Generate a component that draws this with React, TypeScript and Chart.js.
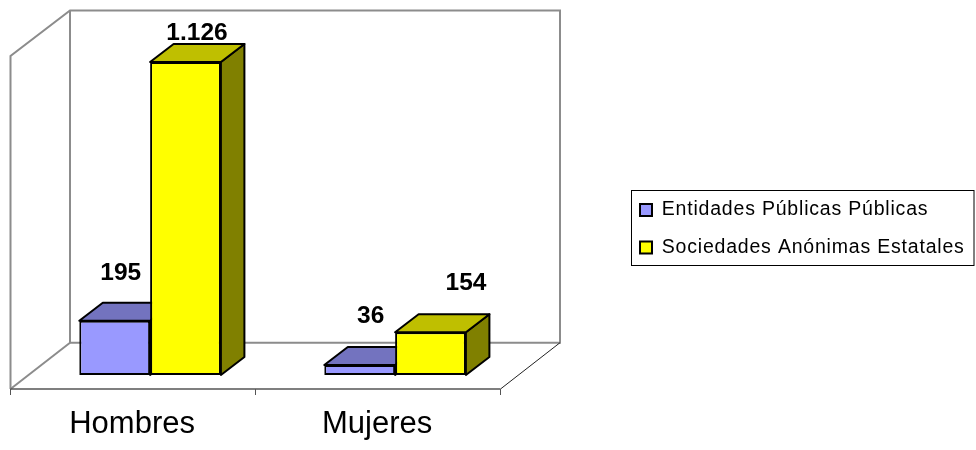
import React, { useEffect, useRef } from "react";
import { Chart, registerables } from "chart.js";

Chart.register(...registerables);

const categories = ["Hombres", "Mujeres"];
const publicas = [195, 36];
const anonimas = [1126, 154];
const seriesNames = ["Entidades Públicas Públicas", "Sociedades Anónimas Estatales"];

const FONT = '"Liberation Sans", Arial, sans-serif';
const frontColors = ["#9999FF", "#FFFF00"];
const topColors = ["#7373BF", "#BFBF00"];
const sideColors = ["#666699", "#808000"];

const fmt = (v: number) => String(v).replace(/\B(?=(\d{3})+$)/g, ".");

const scene = {
  id: "scene",
  beforeDatasetsDraw(chart: any) {
    const { ctx, chartArea: a } = chart;
    const fdx = -17.1, fdy = 14;
    const bdx = 42.4, bdy = -32.3;
    const L = a.left, R = a.right, T = a.top, B = a.bottom;
    const line = (pts: number[][], color: string, w: number) => {
      ctx.beginPath();
      pts.forEach((p, i) => (i ? ctx.lineTo(p[0], p[1]) : ctx.moveTo(p[0], p[1])));
      ctx.strokeStyle = color;
      ctx.lineWidth = w;
      ctx.stroke();
    };
    ctx.save();
    const gray = "#8C8C8C";
    // left wall and back wall
    line([[L + fdx, B + fdy], [L + fdx, T + fdy + 0.6], [L + bdx, T + bdy + 1.4], [R + bdx, T + bdy + 1.4], [R + bdx, B + bdy], [L + bdx, B + bdy], [L + bdx, T + bdy + 1.4]], gray, 2);
    // floor
    line([[L + fdx, B + fdy], [L + bdx, B + bdy]], gray, 2);
    line([[R + fdx, B + fdy], [R + bdx, B + bdy]], "#222222", 1);
    line([[L + fdx, B + fdy], [R + fdx, B + fdy]], "#555555", 1.5);
    // category ticks along the front edge
    const n = categories.length;
    const step = (R - L) / n;
    for (let i = 0; i <= n; i++) {
      const x = Math.floor(L + fdx + step * i) + 0.5;
      line([[x, B + fdy], [x, B + fdy + 6]], "#555555", 1);
    }
    // 3D faces of the bars
    const dx = 23.5, dy = -18;
    chart.data.datasets.forEach((_: any, di: number) => {
      chart.getDatasetMeta(di).data.forEach((el: any) => {
        const x0 = el.x - el.width / 2, x1 = el.x + el.width / 2, y = el.y, b = el.base;
        const face = (pts: number[][], fill: string) => {
          ctx.beginPath();
          pts.forEach((p, i) => (i ? ctx.lineTo(p[0], p[1]) : ctx.moveTo(p[0], p[1])));
          ctx.closePath();
          ctx.fillStyle = fill;
          ctx.fill();
          ctx.strokeStyle = "#000";
          ctx.lineWidth = 2;
          ctx.lineJoin = "round";
          ctx.stroke();
        };
        face([[x1, y], [x1 + dx, y + dy], [x1 + dx, b + dy], [x1, b]], sideColors[di]);
        face([[x0, y], [x0 + dx, y + dy], [x1 + dx, y + dy], [x1, y]], topColors[di]);
      });
    });
    ctx.restore();
  },
  afterDatasetsDraw(chart: any) {
    const { ctx } = chart;
    const shift: Record<string, number[]> = {
      "0-0": [6, -41],
      "0-1": [11, -42],
      "1-0": [11.5, -22],
      "1-1": [35.5, -42],
    };
    ctx.save();
    ctx.fillStyle = "#000";
    ctx.font = `bold 24.5px ${FONT}`;
    ctx.textAlign = "center";
    ctx.textBaseline = "alphabetic";
    chart.data.datasets.forEach((ds: any, di: number) => {
      chart.getDatasetMeta(di).data.forEach((el: any, i: number) => {
        const s = shift[`${di}-${i}`];
        ctx.fillText(fmt(ds.data[i]), el.x + s[0], el.y + s[1]);
      });
    });
    ctx.restore();
  },
  afterLayout(chart: any) {
    const lg = chart.legend;
    lg.left = 622;
    lg.right = 976;
    lg.top = 182.25;
    lg.bottom = 450;
    if (!lg.__spaced) {
      lg.__spaced = true;
      const orig = lg.draw;
      lg.draw = function (...args: any[]) {
        chart.ctx.letterSpacing = "0.8px";
        orig.apply(this, args);
        chart.ctx.letterSpacing = "0px";
      };
    }
  },
  afterDraw(chart: any) {
    const { ctx } = chart;
    ctx.save();
    ctx.strokeStyle = "#000";
    ctx.lineWidth = 1;
    ctx.strokeRect(631.5, 190.5, 342.5, 75);
    ctx.restore();
  },
};

export default function App() {
  const ref = useRef<HTMLCanvasElement>(null);
  useEffect(() => {
    document.body.style.margin = "0";
    const chart = new Chart(ref.current!, {
      type: "bar",
      data: {
        labels: categories,
        datasets: [
          { label: seriesNames[0], data: publicas, backgroundColor: frontColors[0], borderColor: "#000", borderWidth: 2, borderSkipped: false },
          { label: seriesNames[1], data: anonimas, backgroundColor: frontColors[1], borderColor: "#000", borderWidth: 2, borderSkipped: false },
        ],
      },
      options: {
        animation: false,
        responsive: false,
        layout: { padding: { left: 27.6, top: 41.4, right: 158.4, bottom: 0 } },
        datasets: { bar: { categoryPercentage: 0.578, barPercentage: 1 } },
        scales: {
          x: {
            grid: { display: false },
            border: { display: false },
            afterFit: (s: any) => { s.height = 75; },
            ticks: {
              color: "#000",
              font: { family: FONT, size: 31 },
              labelOffset: -18,
              padding: 23,
              maxRotation: 0,
              autoSkip: false,
            },
          },
          y: { display: false, min: 0, max: 1200 },
        },
        plugins: {
          tooltip: { enabled: false },
          legend: {
            position: "right",
            align: "start",
            maxWidth: 300,
            labels: {
              boxWidth: 12,
              boxHeight: 12,
              padding: 18,
              color: "#000",
              font: { family: FONT, size: 19.5 },
            },
          },
        },
      },
      plugins: [scene],
    } as any);
    return () => chart.destroy();
  }, []);
  return (
    <div style={{ width: 976, height: 450 }}>
      <canvas ref={ref} width={976} height={450} style={{ display: "block" }} />
    </div>
  );
}
